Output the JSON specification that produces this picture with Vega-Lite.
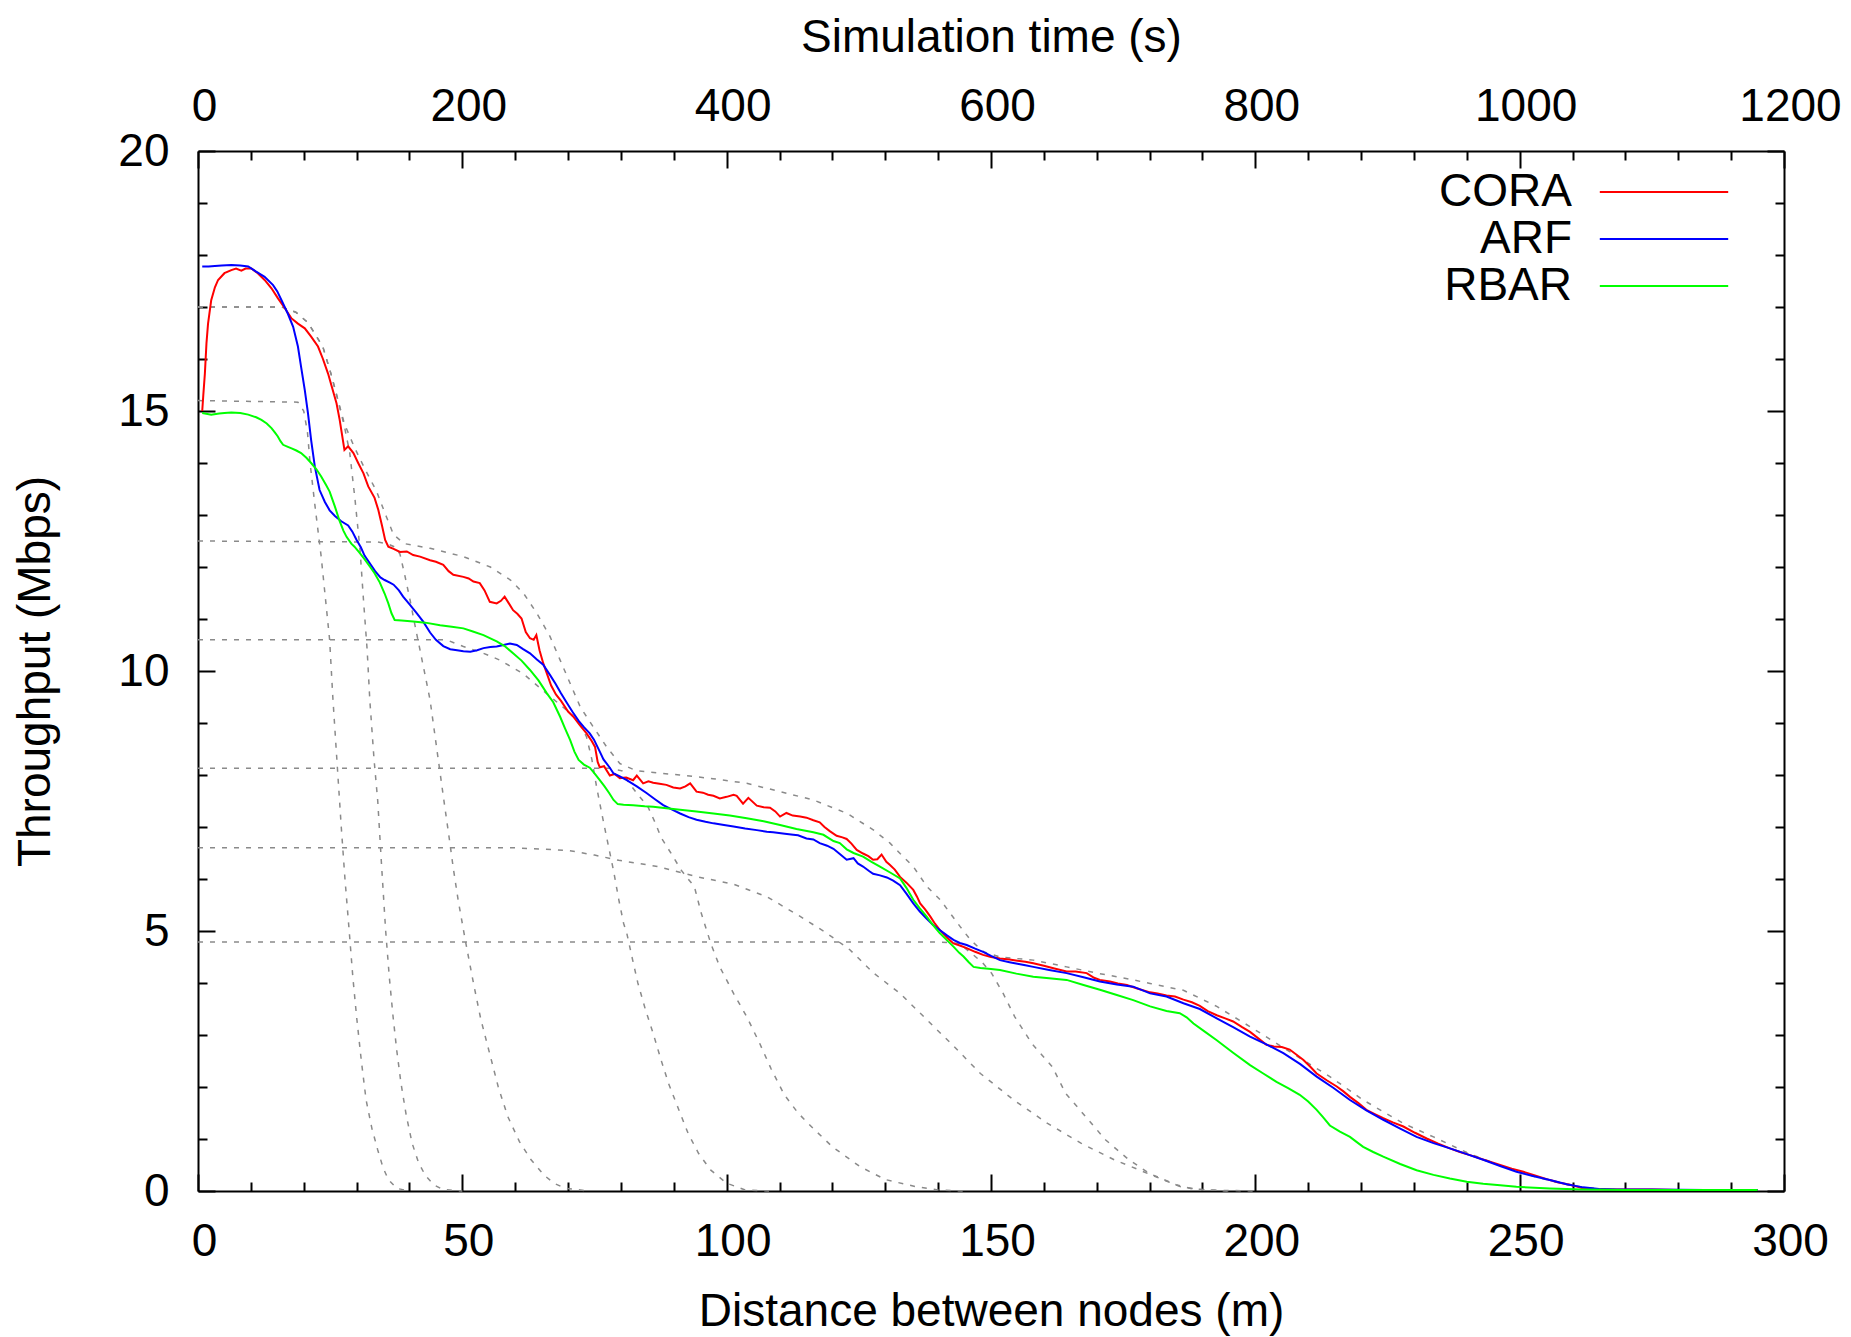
{
"$schema": "https://vega.github.io/schema/vega-lite/v6.json",
"width": 1586, "height": 1040,
"autosize": {"type": "none"},
"padding": {"left": 198, "top": 151, "right": 67, "bottom": 146},
"background": "white",
"config": {"view": {"stroke": null}, "font": "Liberation Sans",
 "axis": {"grid": false, "labelFont": "Liberation Sans", "titleFont": "Liberation Sans", "labelColor": "black", "titleColor": "black", "tickColor": "black", "domainColor": "black", "titleFontWeight": "normal", "labelFontSize": 46, "titleFontSize": 46, "labelFlush": false, "labelOverlap": false, "tickWidth": 2, "domainWidth": 2},
 "legend": {"labelFont": "Liberation Sans", "labelColor": "black"}},
"datasets": {
"series": [
{"s":"CORA","d":0.8,"t":15.0},{"s":"CORA","d":1.0,"t":15.3},{"s":"CORA","d":1.3,"t":15.72},{"s":"CORA","d":1.6,"t":16.3},{"s":"CORA","d":1.9,"t":16.68},{"s":"CORA","d":2.5,"t":17.13},{"s":"CORA","d":3.2,"t":17.38},{"s":"CORA","d":3.8,"t":17.52},{"s":"CORA","d":5.0,"t":17.65},{"s":"CORA","d":6.3,"t":17.71},{"s":"CORA","d":7.2,"t":17.74},{"s":"CORA","d":8.2,"t":17.7},{"s":"CORA","d":9.0,"t":17.74},{"s":"CORA","d":10.1,"t":17.74},{"s":"CORA","d":11.3,"t":17.65},{"s":"CORA","d":12.6,"t":17.52},{"s":"CORA","d":13.9,"t":17.36},{"s":"CORA","d":15.1,"t":17.17},{"s":"CORA","d":16.4,"t":16.98},{"s":"CORA","d":17.7,"t":16.78},{"s":"CORA","d":18.9,"t":16.68},{"s":"CORA","d":20.2,"t":16.59},{"s":"CORA","d":21.4,"t":16.43},{"s":"CORA","d":22.7,"t":16.24},{"s":"CORA","d":23.6,"t":16.01},{"s":"CORA","d":24.6,"t":15.72},{"s":"CORA","d":25.5,"t":15.4},{"s":"CORA","d":26.2,"t":15.15},{"s":"CORA","d":26.8,"t":14.83},{"s":"CORA","d":27.7,"t":14.25},{"s":"CORA","d":28.4,"t":14.32},{"s":"CORA","d":29.4,"t":14.19},{"s":"CORA","d":30.3,"t":14.0},{"s":"CORA","d":31.3,"t":13.8},{"s":"CORA","d":32.2,"t":13.55},{"s":"CORA","d":33.4,"t":13.33},{"s":"CORA","d":34.1,"t":13.1},{"s":"CORA","d":34.8,"t":12.8},{"s":"CORA","d":35.4,"t":12.52},{"s":"CORA","d":36.0,"t":12.39},{"s":"CORA","d":37.0,"t":12.35},{"s":"CORA","d":38.2,"t":12.29},{"s":"CORA","d":39.5,"t":12.3},{"s":"CORA","d":40.7,"t":12.23},{"s":"CORA","d":42.0,"t":12.2},{"s":"CORA","d":43.9,"t":12.13},{"s":"CORA","d":45.0,"t":12.1},{"s":"CORA","d":46.4,"t":12.04},{"s":"CORA","d":47.4,"t":11.92},{"s":"CORA","d":48.3,"t":11.85},{"s":"CORA","d":50.2,"t":11.81},{"s":"CORA","d":51.2,"t":11.78},{"s":"CORA","d":52.1,"t":11.72},{"s":"CORA","d":53.3,"t":11.69},{"s":"CORA","d":54.2,"t":11.55},{"s":"CORA","d":55.2,"t":11.33},{"s":"CORA","d":56.5,"t":11.3},{"s":"CORA","d":57.3,"t":11.35},{"s":"CORA","d":58.0,"t":11.43},{"s":"CORA","d":58.8,"t":11.3},{"s":"CORA","d":59.6,"t":11.17},{"s":"CORA","d":60.4,"t":11.1},{"s":"CORA","d":61.2,"t":11.01},{"s":"CORA","d":62.0,"t":10.75},{"s":"CORA","d":62.8,"t":10.63},{"s":"CORA","d":63.5,"t":10.6},{"s":"CORA","d":64.0,"t":10.69},{"s":"CORA","d":64.6,"t":10.4},{"s":"CORA","d":65.3,"t":10.15},{"s":"CORA","d":66.0,"t":9.95},{"s":"CORA","d":66.8,"t":9.72},{"s":"CORA","d":67.7,"t":9.55},{"s":"CORA","d":68.7,"t":9.42},{"s":"CORA","d":70.0,"t":9.22},{"s":"CORA","d":71.0,"t":9.12},{"s":"CORA","d":72.3,"t":8.95},{"s":"CORA","d":73.5,"t":8.8},{"s":"CORA","d":74.5,"t":8.65},{"s":"CORA","d":75.1,"t":8.54},{"s":"CORA","d":75.6,"t":8.25},{"s":"CORA","d":76.0,"t":8.15},{"s":"CORA","d":76.8,"t":8.17},{"s":"CORA","d":77.9,"t":7.99},{"s":"CORA","d":78.8,"t":8.02},{"s":"CORA","d":79.8,"t":7.94},{"s":"CORA","d":81.0,"t":7.95},{"s":"CORA","d":82.3,"t":7.9},{"s":"CORA","d":83.0,"t":7.99},{"s":"CORA","d":84.2,"t":7.84},{"s":"CORA","d":85.2,"t":7.88},{"s":"CORA","d":86.1,"t":7.85},{"s":"CORA","d":87.3,"t":7.83},{"s":"CORA","d":88.6,"t":7.81},{"s":"CORA","d":89.9,"t":7.76},{"s":"CORA","d":91.2,"t":7.74},{"s":"CORA","d":92.2,"t":7.78},{"s":"CORA","d":93.1,"t":7.84},{"s":"CORA","d":94.3,"t":7.68},{"s":"CORA","d":95.5,"t":7.66},{"s":"CORA","d":96.5,"t":7.62},{"s":"CORA","d":97.5,"t":7.6},{"s":"CORA","d":98.7,"t":7.55},{"s":"CORA","d":100.0,"t":7.58},{"s":"CORA","d":101.3,"t":7.62},{"s":"CORA","d":101.9,"t":7.6},{"s":"CORA","d":103.1,"t":7.45},{"s":"CORA","d":104.1,"t":7.56},{"s":"CORA","d":105.7,"t":7.41},{"s":"CORA","d":107.0,"t":7.38},{"s":"CORA","d":108.2,"t":7.37},{"s":"CORA","d":109.2,"t":7.3},{"s":"CORA","d":110.1,"t":7.2},{"s":"CORA","d":111.3,"t":7.27},{"s":"CORA","d":112.5,"t":7.22},{"s":"CORA","d":113.9,"t":7.2},{"s":"CORA","d":115.1,"t":7.18},{"s":"CORA","d":116.4,"t":7.13},{"s":"CORA","d":117.6,"t":7.09},{"s":"CORA","d":118.5,"t":7.0},{"s":"CORA","d":119.5,"t":6.92},{"s":"CORA","d":120.8,"t":6.83},{"s":"CORA","d":121.9,"t":6.8},{"s":"CORA","d":122.7,"t":6.77},{"s":"CORA","d":123.6,"t":6.68},{"s":"CORA","d":124.6,"t":6.56},{"s":"CORA","d":125.8,"t":6.49},{"s":"CORA","d":126.8,"t":6.44},{"s":"CORA","d":127.7,"t":6.37},{"s":"CORA","d":128.5,"t":6.38},{"s":"CORA","d":129.3,"t":6.47},{"s":"CORA","d":130.2,"t":6.33},{"s":"CORA","d":130.9,"t":6.27},{"s":"CORA","d":131.8,"t":6.18},{"s":"CORA","d":132.8,"t":6.04},{"s":"CORA","d":134.0,"t":5.93},{"s":"CORA","d":135.3,"t":5.79},{"s":"CORA","d":136.0,"t":5.66},{"s":"CORA","d":136.6,"t":5.53},{"s":"CORA","d":137.5,"t":5.42},{"s":"CORA","d":138.5,"t":5.28},{"s":"CORA","d":139.4,"t":5.14},{"s":"CORA","d":140.3,"t":5.02},{"s":"CORA","d":141.6,"t":4.88},{"s":"CORA","d":142.9,"t":4.76},{"s":"CORA","d":144.1,"t":4.72},{"s":"CORA","d":145.4,"t":4.67},{"s":"CORA","d":147.0,"t":4.6},{"s":"CORA","d":148.5,"t":4.54},{"s":"CORA","d":150.0,"t":4.5},{"s":"CORA","d":151.7,"t":4.47},{"s":"CORA","d":153.5,"t":4.45},{"s":"CORA","d":155.0,"t":4.43},{"s":"CORA","d":156.5,"t":4.41},{"s":"CORA","d":158.0,"t":4.38},{"s":"CORA","d":160.0,"t":4.33},{"s":"CORA","d":162.0,"t":4.28},{"s":"CORA","d":164.3,"t":4.22},{"s":"CORA","d":166.0,"t":4.22},{"s":"CORA","d":168.1,"t":4.19},{"s":"CORA","d":169.5,"t":4.1},{"s":"CORA","d":170.6,"t":4.06},{"s":"CORA","d":172.5,"t":4.03},{"s":"CORA","d":174.0,"t":3.99},{"s":"CORA","d":175.7,"t":3.96},{"s":"CORA","d":177.5,"t":3.9},{"s":"CORA","d":180.1,"t":3.82},{"s":"CORA","d":181.5,"t":3.8},{"s":"CORA","d":183.2,"t":3.76},{"s":"CORA","d":184.8,"t":3.74},{"s":"CORA","d":186.4,"t":3.68},{"s":"CORA","d":188.0,"t":3.63},{"s":"CORA","d":189.5,"t":3.56},{"s":"CORA","d":191.0,"t":3.46},{"s":"CORA","d":192.7,"t":3.38},{"s":"CORA","d":194.3,"t":3.32},{"s":"CORA","d":195.8,"t":3.26},{"s":"CORA","d":197.5,"t":3.15},{"s":"CORA","d":199.0,"t":3.06},{"s":"CORA","d":200.5,"t":2.94},{"s":"CORA","d":202.1,"t":2.81},{"s":"CORA","d":203.5,"t":2.78},{"s":"CORA","d":205.0,"t":2.77},{"s":"CORA","d":206.5,"t":2.72},{"s":"CORA","d":207.8,"t":2.62},{"s":"CORA","d":209.1,"t":2.52},{"s":"CORA","d":210.4,"t":2.39},{"s":"CORA","d":211.6,"t":2.26},{"s":"CORA","d":213.5,"t":2.13},{"s":"CORA","d":215.4,"t":2.01},{"s":"CORA","d":216.6,"t":1.92},{"s":"CORA","d":217.9,"t":1.81},{"s":"CORA","d":219.5,"t":1.69},{"s":"CORA","d":221.0,"t":1.56},{"s":"CORA","d":222.6,"t":1.48},{"s":"CORA","d":224.2,"t":1.4},{"s":"CORA","d":226.0,"t":1.32},{"s":"CORA","d":228.0,"t":1.24},{"s":"CORA","d":230.2,"t":1.12},{"s":"CORA","d":232.4,"t":1.01},{"s":"CORA","d":234.6,"t":0.91},{"s":"CORA","d":236.8,"t":0.82},{"s":"CORA","d":238.7,"t":0.75},{"s":"CORA","d":240.6,"t":0.69},{"s":"CORA","d":243.5,"t":0.59},{"s":"CORA","d":246.3,"t":0.5},{"s":"CORA","d":248.5,"t":0.43},{"s":"CORA","d":250.7,"t":0.37},{"s":"CORA","d":253.2,"t":0.29},{"s":"CORA","d":255.7,"t":0.21},{"s":"CORA","d":257.6,"t":0.16},{"s":"CORA","d":259.5,"t":0.12},{"s":"CORA","d":261.0,"t":0.08},{"s":"CORA","d":262.0,"t":0.05},{"s":"CORA","d":264.0,"t":0.04},{"s":"CORA","d":268.0,"t":0.03},{"s":"CORA","d":275.0,"t":0.03},{"s":"CORA","d":280.0,"t":0.02},{"s":"CORA","d":287.0,"t":0.02},{"s":"CORA","d":295.0,"t":0.02},
{"s":"ARF","d":0.8,"t":17.78},{"s":"ARF","d":2.0,"t":17.78},{"s":"ARF","d":3.2,"t":17.79},{"s":"ARF","d":4.5,"t":17.8},{"s":"ARF","d":6.3,"t":17.81},{"s":"ARF","d":8.0,"t":17.8},{"s":"ARF","d":9.5,"t":17.78},{"s":"ARF","d":11.0,"t":17.68},{"s":"ARF","d":12.6,"t":17.58},{"s":"ARF","d":14.2,"t":17.42},{"s":"ARF","d":15.0,"t":17.3},{"s":"ARF","d":15.8,"t":17.13},{"s":"ARF","d":17.0,"t":16.87},{"s":"ARF","d":18.0,"t":16.62},{"s":"ARF","d":18.9,"t":16.24},{"s":"ARF","d":19.5,"t":15.85},{"s":"ARF","d":20.2,"t":15.4},{"s":"ARF","d":20.8,"t":14.96},{"s":"ARF","d":21.4,"t":14.44},{"s":"ARF","d":22.1,"t":13.93},{"s":"ARF","d":23.0,"t":13.48},{"s":"ARF","d":24.0,"t":13.25},{"s":"ARF","d":24.9,"t":13.09},{"s":"ARF","d":25.9,"t":12.98},{"s":"ARF","d":27.1,"t":12.88},{"s":"ARF","d":28.4,"t":12.8},{"s":"ARF","d":29.2,"t":12.68},{"s":"ARF","d":30.0,"t":12.52},{"s":"ARF","d":30.8,"t":12.38},{"s":"ARF","d":31.5,"t":12.22},{"s":"ARF","d":32.5,"t":12.07},{"s":"ARF","d":33.5,"t":11.92},{"s":"ARF","d":34.5,"t":11.8},{"s":"ARF","d":35.3,"t":11.75},{"s":"ARF","d":36.3,"t":11.7},{"s":"ARF","d":37.0,"t":11.66},{"s":"ARF","d":38.0,"t":11.55},{"s":"ARF","d":38.8,"t":11.43},{"s":"ARF","d":40.1,"t":11.27},{"s":"ARF","d":41.4,"t":11.11},{"s":"ARF","d":42.6,"t":10.95},{"s":"ARF","d":43.9,"t":10.74},{"s":"ARF","d":45.0,"t":10.6},{"s":"ARF","d":46.4,"t":10.48},{"s":"ARF","d":47.7,"t":10.42},{"s":"ARF","d":49.0,"t":10.4},{"s":"ARF","d":50.2,"t":10.38},{"s":"ARF","d":51.5,"t":10.37},{"s":"ARF","d":52.8,"t":10.4},{"s":"ARF","d":54.0,"t":10.44},{"s":"ARF","d":55.3,"t":10.46},{"s":"ARF","d":56.5,"t":10.47},{"s":"ARF","d":57.8,"t":10.5},{"s":"ARF","d":59.0,"t":10.53},{"s":"ARF","d":60.3,"t":10.5},{"s":"ARF","d":61.5,"t":10.42},{"s":"ARF","d":62.8,"t":10.34},{"s":"ARF","d":64.1,"t":10.22},{"s":"ARF","d":65.3,"t":10.12},{"s":"ARF","d":66.6,"t":9.92},{"s":"ARF","d":67.6,"t":9.76},{"s":"ARF","d":68.6,"t":9.58},{"s":"ARF","d":69.7,"t":9.4},{"s":"ARF","d":70.8,"t":9.22},{"s":"ARF","d":72.0,"t":9.04},{"s":"ARF","d":73.0,"t":8.92},{"s":"ARF","d":74.1,"t":8.8},{"s":"ARF","d":74.9,"t":8.68},{"s":"ARF","d":76.0,"t":8.45},{"s":"ARF","d":76.7,"t":8.3},{"s":"ARF","d":77.9,"t":8.14},{"s":"ARF","d":78.6,"t":8.03},{"s":"ARF","d":79.7,"t":7.98},{"s":"ARF","d":81.1,"t":7.9},{"s":"ARF","d":83.0,"t":7.78},{"s":"ARF","d":84.9,"t":7.65},{"s":"ARF","d":86.5,"t":7.53},{"s":"ARF","d":88.0,"t":7.42},{"s":"ARF","d":89.6,"t":7.34},{"s":"ARF","d":91.2,"t":7.26},{"s":"ARF","d":92.8,"t":7.19},{"s":"ARF","d":94.3,"t":7.14},{"s":"ARF","d":96.0,"t":7.1},{"s":"ARF","d":97.5,"t":7.07},{"s":"ARF","d":99.5,"t":7.04},{"s":"ARF","d":101.3,"t":7.01},{"s":"ARF","d":103.5,"t":6.97},{"s":"ARF","d":105.7,"t":6.94},{"s":"ARF","d":107.6,"t":6.91},{"s":"ARF","d":108.8,"t":6.9},{"s":"ARF","d":111.0,"t":6.87},{"s":"ARF","d":112.6,"t":6.85},{"s":"ARF","d":113.5,"t":6.84},{"s":"ARF","d":115.1,"t":6.78},{"s":"ARF","d":116.4,"t":6.76},{"s":"ARF","d":117.6,"t":6.69},{"s":"ARF","d":119.0,"t":6.64},{"s":"ARF","d":120.2,"t":6.58},{"s":"ARF","d":121.4,"t":6.48},{"s":"ARF","d":122.7,"t":6.37},{"s":"ARF","d":124.0,"t":6.4},{"s":"ARF","d":124.8,"t":6.3},{"s":"ARF","d":125.8,"t":6.24},{"s":"ARF","d":127.0,"t":6.15},{"s":"ARF","d":127.7,"t":6.1},{"s":"ARF","d":129.0,"t":6.07},{"s":"ARF","d":130.3,"t":6.03},{"s":"ARF","d":131.5,"t":5.97},{"s":"ARF","d":132.8,"t":5.88},{"s":"ARF","d":134.0,"t":5.72},{"s":"ARF","d":135.3,"t":5.53},{"s":"ARF","d":136.5,"t":5.38},{"s":"ARF","d":137.8,"t":5.24},{"s":"ARF","d":139.0,"t":5.12},{"s":"ARF","d":140.3,"t":5.02},{"s":"ARF","d":141.6,"t":4.92},{"s":"ARF","d":142.9,"t":4.83},{"s":"ARF","d":144.1,"t":4.77},{"s":"ARF","d":145.4,"t":4.73},{"s":"ARF","d":147.0,"t":4.66},{"s":"ARF","d":148.5,"t":4.6},{"s":"ARF","d":150.0,"t":4.52},{"s":"ARF","d":151.7,"t":4.44},{"s":"ARF","d":153.5,"t":4.4},{"s":"ARF","d":155.0,"t":4.37},{"s":"ARF","d":156.5,"t":4.34},{"s":"ARF","d":158.0,"t":4.31},{"s":"ARF","d":161.0,"t":4.25},{"s":"ARF","d":164.3,"t":4.19},{"s":"ARF","d":167.5,"t":4.11},{"s":"ARF","d":170.6,"t":4.03},{"s":"ARF","d":173.8,"t":3.97},{"s":"ARF","d":176.9,"t":3.93},{"s":"ARF","d":180.1,"t":3.8},{"s":"ARF","d":183.2,"t":3.74},{"s":"ARF","d":186.4,"t":3.61},{"s":"ARF","d":189.5,"t":3.5},{"s":"ARF","d":192.7,"t":3.32},{"s":"ARF","d":195.8,"t":3.15},{"s":"ARF","d":199.0,"t":2.97},{"s":"ARF","d":202.1,"t":2.82},{"s":"ARF","d":205.3,"t":2.65},{"s":"ARF","d":208.5,"t":2.44},{"s":"ARF","d":211.6,"t":2.2},{"s":"ARF","d":214.8,"t":1.98},{"s":"ARF","d":217.9,"t":1.75},{"s":"ARF","d":221.0,"t":1.55},{"s":"ARF","d":224.2,"t":1.37},{"s":"ARF","d":227.4,"t":1.2},{"s":"ARF","d":230.5,"t":1.04},{"s":"ARF","d":233.7,"t":0.92},{"s":"ARF","d":236.8,"t":0.82},{"s":"ARF","d":240.0,"t":0.71},{"s":"ARF","d":243.1,"t":0.6},{"s":"ARF","d":246.3,"t":0.48},{"s":"ARF","d":249.4,"t":0.37},{"s":"ARF","d":252.5,"t":0.29},{"s":"ARF","d":255.7,"t":0.21},{"s":"ARF","d":258.9,"t":0.13},{"s":"ARF","d":262.0,"t":0.07},{"s":"ARF","d":265.0,"t":0.04},{"s":"ARF","d":268.3,"t":0.03},{"s":"ARF","d":275.0,"t":0.03},{"s":"ARF","d":285.0,"t":0.02},{"s":"ARF","d":295.0,"t":0.02},
{"s":"RBAR","d":0.8,"t":14.96},{"s":"RBAR","d":2.5,"t":14.93},{"s":"RBAR","d":4.0,"t":14.95},{"s":"RBAR","d":5.0,"t":14.96},{"s":"RBAR","d":6.3,"t":14.97},{"s":"RBAR","d":8.0,"t":14.96},{"s":"RBAR","d":9.5,"t":14.93},{"s":"RBAR","d":11.0,"t":14.88},{"s":"RBAR","d":12.0,"t":14.83},{"s":"RBAR","d":13.0,"t":14.76},{"s":"RBAR","d":13.9,"t":14.67},{"s":"RBAR","d":14.6,"t":14.58},{"s":"RBAR","d":15.1,"t":14.51},{"s":"RBAR","d":15.6,"t":14.42},{"s":"RBAR","d":16.1,"t":14.35},{"s":"RBAR","d":17.0,"t":14.31},{"s":"RBAR","d":17.7,"t":14.28},{"s":"RBAR","d":18.6,"t":14.24},{"s":"RBAR","d":19.5,"t":14.19},{"s":"RBAR","d":20.5,"t":14.1},{"s":"RBAR","d":21.4,"t":14.0},{"s":"RBAR","d":22.4,"t":13.88},{"s":"RBAR","d":23.3,"t":13.74},{"s":"RBAR","d":24.2,"t":13.58},{"s":"RBAR","d":24.9,"t":13.45},{"s":"RBAR","d":25.9,"t":13.16},{"s":"RBAR","d":26.8,"t":12.88},{"s":"RBAR","d":27.5,"t":12.7},{"s":"RBAR","d":28.1,"t":12.58},{"s":"RBAR","d":29.0,"t":12.45},{"s":"RBAR","d":29.6,"t":12.39},{"s":"RBAR","d":30.5,"t":12.28},{"s":"RBAR","d":31.5,"t":12.15},{"s":"RBAR","d":32.5,"t":12.01},{"s":"RBAR","d":33.4,"t":11.88},{"s":"RBAR","d":34.4,"t":11.7},{"s":"RBAR","d":35.3,"t":11.49},{"s":"RBAR","d":36.0,"t":11.3},{"s":"RBAR","d":36.6,"t":11.11},{"s":"RBAR","d":37.2,"t":10.98},{"s":"RBAR","d":38.5,"t":10.97},{"s":"RBAR","d":40.7,"t":10.95},{"s":"RBAR","d":43.0,"t":10.93},{"s":"RBAR","d":45.8,"t":10.88},{"s":"RBAR","d":48.0,"t":10.85},{"s":"RBAR","d":50.2,"t":10.82},{"s":"RBAR","d":52.0,"t":10.76},{"s":"RBAR","d":54.0,"t":10.69},{"s":"RBAR","d":56.5,"t":10.57},{"s":"RBAR","d":58.0,"t":10.48},{"s":"RBAR","d":59.6,"t":10.34},{"s":"RBAR","d":61.2,"t":10.2},{"s":"RBAR","d":62.8,"t":10.02},{"s":"RBAR","d":64.4,"t":9.82},{"s":"RBAR","d":66.0,"t":9.57},{"s":"RBAR","d":67.2,"t":9.4},{"s":"RBAR","d":68.5,"t":9.12},{"s":"RBAR","d":69.4,"t":8.9},{"s":"RBAR","d":70.4,"t":8.67},{"s":"RBAR","d":71.2,"t":8.45},{"s":"RBAR","d":72.0,"t":8.29},{"s":"RBAR","d":73.0,"t":8.2},{"s":"RBAR","d":74.1,"t":8.14},{"s":"RBAR","d":75.0,"t":8.03},{"s":"RBAR","d":76.0,"t":7.9},{"s":"RBAR","d":76.9,"t":7.78},{"s":"RBAR","d":77.8,"t":7.65},{"s":"RBAR","d":78.6,"t":7.52},{"s":"RBAR","d":79.4,"t":7.44},{"s":"RBAR","d":80.5,"t":7.43},{"s":"RBAR","d":82.3,"t":7.42},{"s":"RBAR","d":84.5,"t":7.4},{"s":"RBAR","d":86.1,"t":7.39},{"s":"RBAR","d":88.6,"t":7.36},{"s":"RBAR","d":91.2,"t":7.33},{"s":"RBAR","d":94.3,"t":7.3},{"s":"RBAR","d":97.5,"t":7.26},{"s":"RBAR","d":100.6,"t":7.22},{"s":"RBAR","d":103.8,"t":7.17},{"s":"RBAR","d":107.0,"t":7.11},{"s":"RBAR","d":110.1,"t":7.04},{"s":"RBAR","d":113.2,"t":6.96},{"s":"RBAR","d":116.4,"t":6.9},{"s":"RBAR","d":118.3,"t":6.85},{"s":"RBAR","d":120.2,"t":6.73},{"s":"RBAR","d":121.4,"t":6.69},{"s":"RBAR","d":122.7,"t":6.57},{"s":"RBAR","d":124.0,"t":6.5},{"s":"RBAR","d":125.8,"t":6.43},{"s":"RBAR","d":127.4,"t":6.33},{"s":"RBAR","d":129.0,"t":6.24},{"s":"RBAR","d":131.0,"t":6.12},{"s":"RBAR","d":132.8,"t":6.01},{"s":"RBAR","d":134.0,"t":5.83},{"s":"RBAR","d":135.3,"t":5.6},{"s":"RBAR","d":136.5,"t":5.44},{"s":"RBAR","d":137.8,"t":5.28},{"s":"RBAR","d":139.0,"t":5.12},{"s":"RBAR","d":140.3,"t":4.96},{"s":"RBAR","d":141.6,"t":4.83},{"s":"RBAR","d":142.9,"t":4.7},{"s":"RBAR","d":144.0,"t":4.58},{"s":"RBAR","d":144.8,"t":4.51},{"s":"RBAR","d":145.8,"t":4.4},{"s":"RBAR","d":146.7,"t":4.31},{"s":"RBAR","d":148.0,"t":4.29},{"s":"RBAR","d":150.0,"t":4.27},{"s":"RBAR","d":151.7,"t":4.25},{"s":"RBAR","d":154.8,"t":4.18},{"s":"RBAR","d":158.0,"t":4.12},{"s":"RBAR","d":161.0,"t":4.09},{"s":"RBAR","d":164.3,"t":4.06},{"s":"RBAR","d":167.5,"t":3.96},{"s":"RBAR","d":170.6,"t":3.87},{"s":"RBAR","d":173.8,"t":3.77},{"s":"RBAR","d":176.9,"t":3.67},{"s":"RBAR","d":180.1,"t":3.55},{"s":"RBAR","d":183.2,"t":3.46},{"s":"RBAR","d":185.7,"t":3.42},{"s":"RBAR","d":187.0,"t":3.34},{"s":"RBAR","d":188.3,"t":3.22},{"s":"RBAR","d":190.5,"t":3.06},{"s":"RBAR","d":192.7,"t":2.9},{"s":"RBAR","d":195.8,"t":2.66},{"s":"RBAR","d":199.0,"t":2.42},{"s":"RBAR","d":201.5,"t":2.26},{"s":"RBAR","d":204.0,"t":2.1},{"s":"RBAR","d":206.2,"t":1.98},{"s":"RBAR","d":208.4,"t":1.85},{"s":"RBAR","d":210.0,"t":1.72},{"s":"RBAR","d":211.6,"t":1.56},{"s":"RBAR","d":212.8,"t":1.42},{"s":"RBAR","d":214.1,"t":1.26},{"s":"RBAR","d":216.0,"t":1.14},{"s":"RBAR","d":217.9,"t":1.04},{"s":"RBAR","d":219.2,"t":0.94},{"s":"RBAR","d":220.4,"t":0.85},{"s":"RBAR","d":222.3,"t":0.75},{"s":"RBAR","d":224.2,"t":0.66},{"s":"RBAR","d":227.4,"t":0.52},{"s":"RBAR","d":230.5,"t":0.4},{"s":"RBAR","d":233.7,"t":0.31},{"s":"RBAR","d":236.8,"t":0.24},{"s":"RBAR","d":240.0,"t":0.18},{"s":"RBAR","d":243.1,"t":0.14},{"s":"RBAR","d":246.3,"t":0.11},{"s":"RBAR","d":249.4,"t":0.08},{"s":"RBAR","d":255.7,"t":0.05},{"s":"RBAR","d":262.0,"t":0.03},{"s":"RBAR","d":270.0,"t":0.02},{"s":"RBAR","d":280.0,"t":0.02},{"s":"RBAR","d":295.0,"t":0.02}
],
"model": [
{"c":"E","d":0,"t":17.0},{"c":"E","d":15.8,"t":17.0},{"c":"E","d":18.5,"t":16.9},{"c":"E","d":20.8,"t":16.7},{"c":"E","d":23.6,"t":16.24},{"c":"E","d":25.2,"t":15.7},{"c":"E","d":26.5,"t":15.2},{"c":"E","d":27.7,"t":14.75},{"c":"E","d":29.6,"t":14.3},{"c":"E","d":31.5,"t":13.9},{"c":"E","d":33.8,"t":13.45},{"c":"E","d":35.5,"t":13.0},{"c":"E","d":37.0,"t":12.62},{"c":"E","d":39.0,"t":12.45},{"c":"E","d":43.9,"t":12.36},{"c":"E","d":50.2,"t":12.2},{"c":"E","d":55.3,"t":12.0},{"c":"E","d":59.1,"t":11.75},{"c":"E","d":61.6,"t":11.49},{"c":"E","d":64.1,"t":11.11},{"c":"E","d":66.6,"t":10.66},{"c":"E","d":68.5,"t":10.21},{"c":"E","d":70.4,"t":9.76},{"c":"E","d":72.3,"t":9.31},{"c":"E","d":74.8,"t":8.92},{"c":"E","d":77.3,"t":8.54},{"c":"E","d":79.8,"t":8.22},{"c":"E","d":83.0,"t":8.08},{"c":"E","d":88.0,"t":8.03},{"c":"E","d":91.1,"t":8.0},{"c":"E","d":97.4,"t":7.93},{"c":"E","d":103.8,"t":7.84},{"c":"E","d":110.1,"t":7.68},{"c":"E","d":116.4,"t":7.52},{"c":"E","d":122.8,"t":7.26},{"c":"E","d":127.8,"t":6.94},{"c":"E","d":130.9,"t":6.69},{"c":"E","d":132.8,"t":6.49},{"c":"E","d":135.3,"t":6.24},{"c":"E","d":137.9,"t":5.85},{"c":"E","d":140.4,"t":5.6},{"c":"E","d":142.3,"t":5.34},{"c":"E","d":144.2,"t":5.08},{"c":"E","d":146.1,"t":4.83},{"c":"E","d":148.6,"t":4.6},{"c":"E","d":151.7,"t":4.5},{"c":"E","d":158.0,"t":4.44},{"c":"E","d":164.3,"t":4.31},{"c":"E","d":170.6,"t":4.18},{"c":"E","d":176.9,"t":4.06},{"c":"E","d":180.1,"t":3.99},{"c":"E","d":186.4,"t":3.86},{"c":"E","d":192.7,"t":3.55},{"c":"E","d":199.0,"t":3.16},{"c":"E","d":204.0,"t":2.84},{"c":"E","d":209.0,"t":2.52},{"c":"E","d":214.1,"t":2.2},{"c":"E","d":220.4,"t":1.75},{"c":"E","d":228.0,"t":1.3},{"c":"E","d":233.7,"t":1.04},{"c":"E","d":240.0,"t":0.74},{"c":"E","d":246.0,"t":0.5},{"c":"E","d":251.0,"t":0.33},{"c":"E","d":256.0,"t":0.19},{"c":"E","d":260.0,"t":0.1},{"c":"E","d":265.0,"t":0.04},{"c":"E","d":270.0,"t":0.02},
{"c":"F17","d":0,"t":17.0},{"c":"F17","d":15.8,"t":17.0},{"c":"F17","d":18.5,"t":16.9},{"c":"F17","d":20.8,"t":16.7},{"c":"F17","d":23.6,"t":16.24},{"c":"F17","d":25.2,"t":15.7},{"c":"F17","d":26.5,"t":15.2},{"c":"F17","d":27.7,"t":14.7},{"c":"F17","d":28.7,"t":14.2},{"c":"F17","d":29.7,"t":13.3},{"c":"F17","d":30.65,"t":12.33},{"c":"F17","d":31.3,"t":11.37},{"c":"F17","d":32.0,"t":10.4},{"c":"F17","d":32.5,"t":9.44},{"c":"F17","d":33.3,"t":8.3},{"c":"F17","d":34.0,"t":7.5},{"c":"F17","d":34.7,"t":6.3},{"c":"F17","d":35.5,"t":5.0},{"c":"F17","d":36.2,"t":4.1},{"c":"F17","d":36.9,"t":3.35},{"c":"F17","d":37.6,"t":2.7},{"c":"F17","d":38.4,"t":2.07},{"c":"F17","d":39.4,"t":1.45},{"c":"F17","d":40.5,"t":0.92},{"c":"F17","d":41.7,"t":0.55},{"c":"F17","d":43.0,"t":0.3},{"c":"F17","d":44.6,"t":0.12},{"c":"F17","d":46.3,"t":0.03},{"c":"F17","d":50.0,"t":0.0},
{"c":"F15","d":0,"t":15.2},{"c":"F15","d":18.9,"t":15.17},{"c":"F15","d":20.0,"t":15.0},{"c":"F15","d":20.7,"t":14.6},{"c":"F15","d":21.2,"t":14.0},{"c":"F15","d":22.1,"t":13.2},{"c":"F15","d":23.3,"t":12.2},{"c":"F15","d":24.1,"t":11.4},{"c":"F15","d":24.9,"t":10.6},{"c":"F15","d":25.5,"t":9.5},{"c":"F15","d":26.2,"t":8.4},{"c":"F15","d":27.1,"t":7.0},{"c":"F15","d":27.8,"t":6.0},{"c":"F15","d":28.6,"t":5.0},{"c":"F15","d":29.3,"t":4.1},{"c":"F15","d":30.0,"t":3.35},{"c":"F15","d":30.9,"t":2.5},{"c":"F15","d":31.8,"t":1.75},{"c":"F15","d":32.9,"t":1.2},{"c":"F15","d":34.0,"t":0.79},{"c":"F15","d":35.0,"t":0.45},{"c":"F15","d":36.0,"t":0.22},{"c":"F15","d":37.6,"t":0.05},{"c":"F15","d":40.0,"t":0.0},
{"c":"F12","d":0,"t":12.5},{"c":"F12","d":34.0,"t":12.48},{"c":"F12","d":36.0,"t":12.44},{"c":"F12","d":37.3,"t":12.38},{"c":"F12","d":38.2,"t":12.25},{"c":"F12","d":39.1,"t":11.85},{"c":"F12","d":40.1,"t":11.37},{"c":"F12","d":41.0,"t":10.9},{"c":"F12","d":42.0,"t":10.4},{"c":"F12","d":43.0,"t":9.9},{"c":"F12","d":43.9,"t":9.44},{"c":"F12","d":45.2,"t":8.48},{"c":"F12","d":46.5,"t":7.52},{"c":"F12","d":47.5,"t":6.8},{"c":"F12","d":48.3,"t":6.2},{"c":"F12","d":49.2,"t":5.6},{"c":"F12","d":50.6,"t":4.8},{"c":"F12","d":52.1,"t":4.0},{"c":"F12","d":53.5,"t":3.3},{"c":"F12","d":55.0,"t":2.71},{"c":"F12","d":56.8,"t":2.0},{"c":"F12","d":58.6,"t":1.43},{"c":"F12","d":60.8,"t":0.95},{"c":"F12","d":63.0,"t":0.6},{"c":"F12","d":65.5,"t":0.3},{"c":"F12","d":67.5,"t":0.14},{"c":"F12","d":69.5,"t":0.05},{"c":"F12","d":74.0,"t":0.0},
{"c":"F10","d":0,"t":10.6},{"c":"F10","d":47.0,"t":10.6},{"c":"F10","d":50.2,"t":10.47},{"c":"F10","d":53.3,"t":10.37},{"c":"F10","d":57.1,"t":10.21},{"c":"F10","d":61.5,"t":9.95},{"c":"F10","d":65.9,"t":9.57},{"c":"F10","d":70.4,"t":9.19},{"c":"F10","d":72.3,"t":8.98},{"c":"F10","d":73.5,"t":8.73},{"c":"F10","d":74.5,"t":8.3},{"c":"F10","d":75.4,"t":7.77},{"c":"F10","d":76.4,"t":7.25},{"c":"F10","d":77.3,"t":6.8},{"c":"F10","d":78.6,"t":6.16},{"c":"F10","d":79.6,"t":5.6},{"c":"F10","d":80.5,"t":5.15},{"c":"F10","d":81.1,"t":4.96},{"c":"F10","d":82.2,"t":4.45},{"c":"F10","d":83.2,"t":4.0},{"c":"F10","d":84.6,"t":3.5},{"c":"F10","d":86.1,"t":3.03},{"c":"F10","d":87.5,"t":2.55},{"c":"F10","d":89.0,"t":2.07},{"c":"F10","d":90.8,"t":1.6},{"c":"F10","d":92.7,"t":1.11},{"c":"F10","d":94.7,"t":0.72},{"c":"F10","d":97.0,"t":0.4},{"c":"F10","d":100.0,"t":0.15},{"c":"F10","d":103.5,"t":0.02},{"c":"F10","d":108.0,"t":0.0},
{"c":"F8","d":0,"t":8.13},{"c":"F8","d":78.0,"t":8.13},{"c":"F8","d":80.2,"t":8.08},{"c":"F8","d":81.5,"t":7.85},{"c":"F8","d":83.0,"t":7.65},{"c":"F8","d":85.1,"t":7.39},{"c":"F8","d":86.4,"t":7.1},{"c":"F8","d":87.6,"t":6.8},{"c":"F8","d":89.5,"t":6.49},{"c":"F8","d":91.4,"t":6.17},{"c":"F8","d":93.9,"t":5.85},{"c":"F8","d":95.2,"t":5.34},{"c":"F8","d":97.0,"t":4.76},{"c":"F8","d":98.7,"t":4.31},{"c":"F8","d":101.3,"t":3.8},{"c":"F8","d":103.8,"t":3.35},{"c":"F8","d":106.2,"t":2.85},{"c":"F8","d":108.4,"t":2.35},{"c":"F8","d":110.9,"t":1.85},{"c":"F8","d":113.5,"t":1.5},{"c":"F8","d":116.4,"t":1.2},{"c":"F8","d":120.0,"t":0.85},{"c":"F8","d":125.2,"t":0.47},{"c":"F8","d":130.0,"t":0.22},{"c":"F8","d":135.9,"t":0.08},{"c":"F8","d":140.0,"t":0.02},{"c":"F8","d":145.0,"t":0.0},
{"c":"F6","d":0,"t":6.6},{"c":"F6","d":60.0,"t":6.6},{"c":"F6","d":70.0,"t":6.55},{"c":"F6","d":75.0,"t":6.46},{"c":"F6","d":79.6,"t":6.36},{"c":"F6","d":86.9,"t":6.24},{"c":"F6","d":94.1,"t":6.05},{"c":"F6","d":101.3,"t":5.9},{"c":"F6","d":107.6,"t":5.66},{"c":"F6","d":113.9,"t":5.28},{"c":"F6","d":118.9,"t":4.96},{"c":"F6","d":123.3,"t":4.64},{"c":"F6","d":127.8,"t":4.19},{"c":"F6","d":132.8,"t":3.8},{"c":"F6","d":137.9,"t":3.29},{"c":"F6","d":143.0,"t":2.78},{"c":"F6","d":148.0,"t":2.26},{"c":"F6","d":154.3,"t":1.75},{"c":"F6","d":160.7,"t":1.3},{"c":"F6","d":167.0,"t":0.92},{"c":"F6","d":173.3,"t":0.6},{"c":"F6","d":179.6,"t":0.34},{"c":"F6","d":185.9,"t":0.08},{"c":"F6","d":190.0,"t":0.02},{"c":"F6","d":200.0,"t":0.0},
{"c":"F4","d":0,"t":4.79},{"c":"F4","d":140.0,"t":4.79},{"c":"F4","d":144.0,"t":4.76},{"c":"F4","d":146.3,"t":4.57},{"c":"F4","d":148.3,"t":4.4},{"c":"F4","d":150.1,"t":4.19},{"c":"F4","d":152.3,"t":3.8},{"c":"F4","d":154.5,"t":3.35},{"c":"F4","d":157.7,"t":2.84},{"c":"F4","d":161.6,"t":2.39},{"c":"F4","d":164.1,"t":1.88},{"c":"F4","d":167.9,"t":1.43},{"c":"F4","d":171.7,"t":0.98},{"c":"F4","d":176.1,"t":0.6},{"c":"F4","d":179.9,"t":0.34},{"c":"F4","d":185.0,"t":0.12},{"c":"F4","d":188.1,"t":0.04},{"c":"F4","d":195.0,"t":0.0}
]
},
"layer": [
{"data": {"name": "model"},
 "mark": {"type": "line", "color": "#8a8a8a", "strokeWidth": 1.5, "strokeDash": [5, 7]},
 "encoding": {
  "x": {"field": "d", "type": "quantitative", "scale": {"domain": [0, 300], "nice": false},
   "axis": {"orient": "bottom", "values": [0, 50, 100, 150, 200, 250, 300], "tickSize": -17, "labelPadding": 45, "labelOffset": 6, "title": "Distance between nodes (m)", "titlePadding": 25, "domain": true}},
  "y": {"field": "t", "type": "quantitative", "scale": {"domain": [0, 20], "nice": false},
   "axis": {"orient": "left", "values": [0, 5, 10, 15, 20], "tickSize": -17, "labelPadding": 46, "title": "Throughput (Mbps)", "titlePadding": 58, "domain": true}},
  "detail": {"field": "c"}}},
{"data": {"name": "model"},
 "mark": {"type": "line", "opacity": 0},
 "encoding": {
  "x": {"field": "d", "type": "quantitative", "scale": {"domain": [0, 300], "nice": false},
   "axis": {"orient": "bottom", "values": [10, 20, 30, 40, 60, 70, 80, 90, 110, 120, 130, 140, 160, 170, 180, 190, 210, 220, 230, 240, 260, 270, 280, 290], "tickSize": -9, "labels": false, "domain": false, "title": null}},
  "y": {"field": "t", "type": "quantitative", "scale": {"domain": [0, 20], "nice": false},
   "axis": {"orient": "left", "values": [1, 2, 3, 4, 6, 7, 8, 9, 11, 12, 13, 14, 16, 17, 18, 19], "tickSize": -9, "labels": false, "domain": false, "title": null}},
  "detail": {"field": "c"}}},
{"data": {"name": "model"},
 "mark": {"type": "line", "opacity": 0},
 "encoding": {
  "x": {"field": "d", "type": "quantitative", "scale": {"domain": [0, 300], "nice": false},
   "axis": {"orient": "top", "values": [10, 20, 30, 40, 60, 70, 80, 90, 110, 120, 130, 140, 160, 170, 180, 190, 210, 220, 230, 240, 260, 270, 280, 290], "tickSize": -9, "labels": false, "domain": false, "title": null}},
  "y": {"field": "t", "type": "quantitative", "scale": {"domain": [0, 20], "nice": false},
   "axis": {"orient": "right", "values": [1, 2, 3, 4, 6, 7, 8, 9, 11, 12, 13, 14, 16, 17, 18, 19], "tickSize": -9, "labels": false, "domain": false, "title": null}},
  "detail": {"field": "c"}}},
{"data": {"name": "series"},
 "mark": {"type": "line", "strokeWidth": 2},
 "encoding": {
  "x": {"field": "d", "type": "quantitative", "scale": {"domain": [0, 300], "nice": false},
   "axis": {"orient": "top", "values": [0, 50, 100, 150, 200, 250, 300], "labelExpr": "datum.value * 4", "tickSize": -17, "labelPadding": 38, "labelOffset": 6, "title": "Simulation time (s)", "titlePadding": 22, "domain": true}},
  "y": {"field": "t", "type": "quantitative", "scale": {"domain": [0, 20], "nice": false},
   "axis": {"orient": "right", "values": [0, 5, 10, 15, 20], "tickSize": -17, "labels": false, "title": null, "domain": true}},
  "color": {"field": "s", "type": "nominal",
   "scale": {"domain": ["CORA", "ARF", "RBAR"], "range": ["#ff0000", "#0000ff", "#00ff00"]},
   "legend": {"orient": "none", "legendX": 1443, "legendY": 18, "title": null, "symbolType": "M-3,0L3,0", "symbolSize": 1832, "symbolStrokeWidth": 2, "symbolFillColor": "transparent", "labelFontSize": 46, "labelAlign": "right", "labelOffset": -115, "rowPadding": 1, "padding": 0}}}}
],
"resolve": {"axis": {"x": "independent", "y": "independent"}}
}
